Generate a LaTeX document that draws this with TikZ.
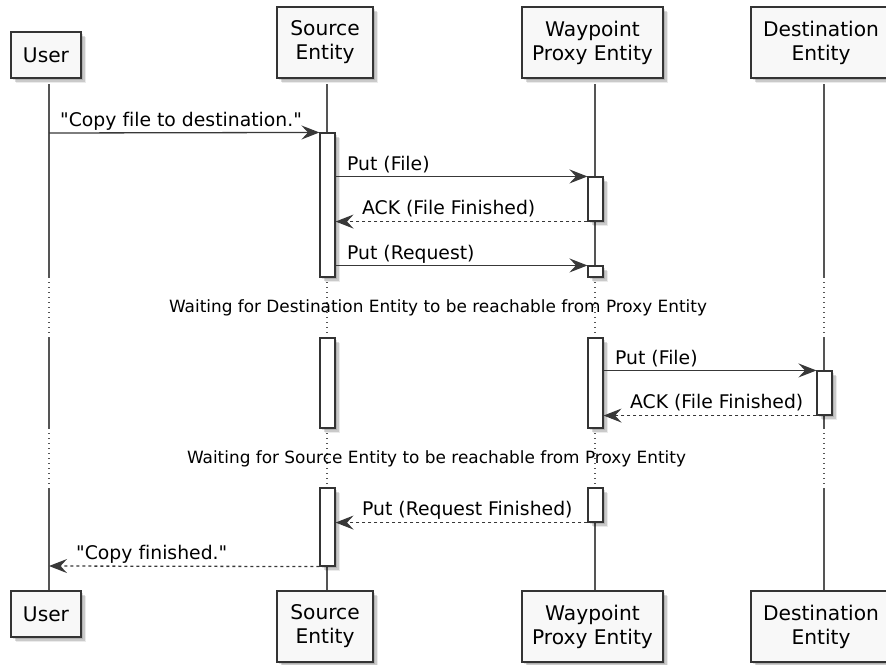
\documentclass[tikz,border=0pt]{standalone}
\usepackage{fontspec}
\newfontfamily\dvs{DejaVu Sans}[Ligatures=NoCommon]
\usetikzlibrary{arrows.meta,shadows}
\definecolor{boxfill}{HTML}{F8F8F8}
\definecolor{boxline}{HTML}{343434}
\definecolor{lifeclr}{HTML}{555555}
\definecolor{arrowclr}{HTML}{383838}

\begin{document}
\begin{tikzpicture}[x=1pt,y=-1pt,
  softshadow/.style={
    drop shadow={shadow xshift=2pt,shadow yshift=-2pt,fill=black,opacity=0.12},
    drop shadow={shadow xshift=3.5pt,shadow yshift=-3.5pt,fill=black,opacity=0.14},
    drop shadow={shadow xshift=5pt,shadow yshift=-5pt,fill=black,opacity=0.08}},
  participant/.style={draw=boxline, line width=1.8pt, fill=boxfill, softshadow,
    inner sep=0pt, align=center, text=black,
    font=\dvs\fontsize{20.2}{24}\selectfont},
  actbox/.style={draw=boxline, line width=1.1pt, fill=white, softshadow,
    inner sep=0pt, minimum width=15pt},
  life/.style={draw=lifeclr, line width=1.1pt},
  lifedot/.style={draw=lifeclr, line width=1.1pt, dash pattern=on 1pt off 4pt},
  msg/.style={draw=arrowclr, line width=1.3pt,
    -{Stealth[length=18pt,width=14pt,inset=6.5pt]}},
  reply/.style={msg, dash pattern=on 3pt off 3pt},
  msglabel/.style={anchor=base west, inner sep=0pt, text=black,
    font=\dvs\fontsize{18.8}{22}\selectfont},
  delaylabel/.style={anchor=center, inner sep=0pt, text=black,
    font=\dvs\fontsize{16.9}{20}\selectfont}
]
\useasboundingbox (0,0) rectangle (886,664);

% lifelines: solid while live, dotted across the two delays
\foreach \lx/\ln in {49/u,327/s,595/w,824/d}{
  \coordinate (\ln0) at (\lx,84);
  \coordinate (\ln1) at (\lx,277);
  \coordinate (\ln2) at (\lx,338);
  \coordinate (\ln3) at (\lx,428);
  \coordinate (\ln4) at (\lx,488);
  \coordinate (\ln5) at (\lx,591);
  \draw[life] (\ln0) -- (\ln1);
  \draw[lifedot] (\ln1) -- (\ln2);
  \draw[life] (\ln2) -- (\ln3);
  \draw[lifedot] (\ln3) -- (\ln4);
  \draw[life] (\ln4) -- (\ln5);
}

% participants, head and foot
\node[participant, minimum width=70pt, minimum height=46pt] (userTop) at (46,55) {User};
\node[participant, minimum width=96pt, minimum height=71pt] (srcTop) at (325,42.5) {Source\\Entity};
\node[participant, minimum width=141pt, minimum height=71pt] (wayTop) at (592.5,42.5) {Waypoint\\Proxy Entity};
\node[participant, minimum width=140pt, minimum height=71pt] (dstTop) at (821,42.5) {Destination\\Entity};

\node[participant, minimum width=70pt, minimum height=46pt] (userBot) at (46,614) {User};
\node[participant, minimum width=96pt, minimum height=71pt] (srcBot) at (325,626.5) {Source\\Entity};
\node[participant, minimum width=141pt, minimum height=71pt] (wayBot) at (592.5,626.5) {Waypoint\\Proxy Entity};
\node[participant, minimum width=140pt, minimum height=71pt] (dstBot) at (821,626.5) {Destination\\Entity};

% activation bars
\node[actbox, minimum height=144pt] (sA1) at (327.5,205) {};
\node[actbox, minimum height=90pt]  (sA2) at (327.5,383) {};
\node[actbox, minimum height=78pt]  (sA3) at (327.5,527) {};
\node[actbox, minimum height=44pt]  (wA1) at (595.5,199) {};
\node[actbox, minimum height=11pt]  (wA2) at (595.5,271.5) {};
\node[actbox, minimum height=90pt]  (wA3) at (595.5,383) {};
\node[actbox, minimum height=34pt]  (wA4) at (595.5,505) {};
\node[actbox, minimum height=44pt]  (dA1) at (824.5,393) {};

% message ends on the lifelines
\coordinate (u133) at (49,133);
\coordinate (u566) at (49,566);

% messages
\draw[msg] (u133) -- (sA1.north west);
\node[msglabel] (m1) at (60,126) {"Copy file to destination."};

\draw[msg] (sA1.east |- wA1.north) -- (wA1.north west);
\node[msglabel] (m2) at (347,170) {Put (File)};

\draw[reply] (wA1.south west) -- (sA1.east |- wA1.south);
\node[msglabel] (m3) at (362,214) {ACK (File Finished)};

\draw[msg] (sA1.east |- wA2.north) -- (wA2.north west);
\node[msglabel] (m4) at (347,259) {Put (Request)};

\node[delaylabel] (delay1) at (438,308) {Waiting for Destination Entity to be reachable from Proxy Entity};

\draw[msg] (wA3.east |- dA1.north) -- (dA1.north west);
\node[msglabel] (m5) at (615,364) {Put (File)};

\draw[reply] (dA1.south west) -- (wA3.east |- dA1.south);
\node[msglabel] (m6) at (630,408) {ACK (File Finished)};

\node[delaylabel] (delay2) at (436.5,459) {Waiting for Source Entity to be reachable from Proxy Entity};

\draw[reply] (wA4.south west) -- (sA3.east |- wA4.south);
\node[msglabel] (m7) at (362,515) {Put (Request Finished)};

\draw[reply] (sA3.south west) -- (u566);
\node[msglabel] (m8) at (76,559) {"Copy finished."};
\end{tikzpicture}
\end{document}
